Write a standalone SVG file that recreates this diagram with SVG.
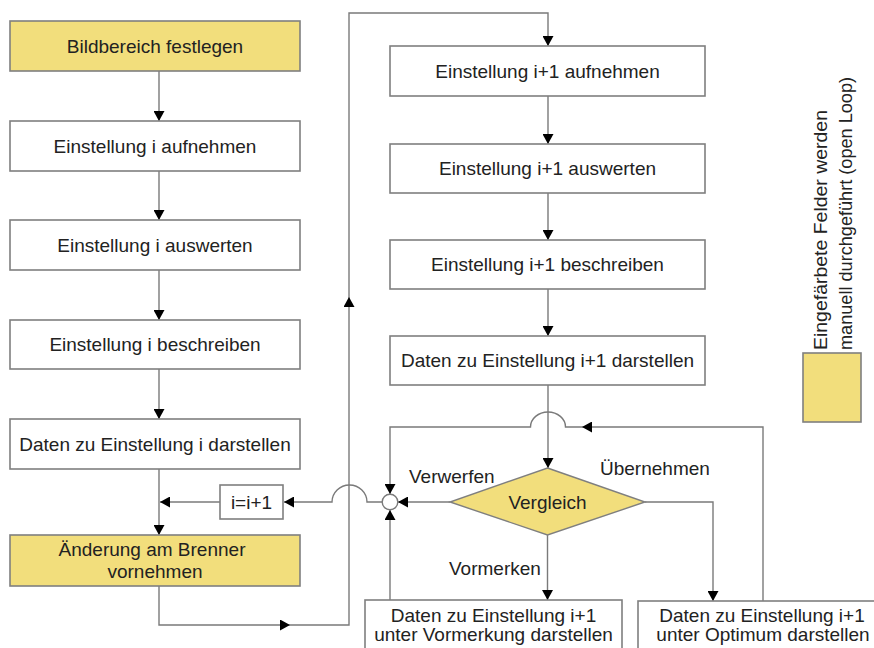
<svg xmlns="http://www.w3.org/2000/svg" width="874" height="648" viewBox="0 0 874 648">
<style>
.box{fill:#ffffff;stroke:#7f7f7f;stroke-width:1.6}
.yel{fill:#f2de7c;stroke:#7f7f7f;stroke-width:1.6}
.t{font-family:"Liberation Sans",Arial,sans-serif;font-size:19px;fill:#222;text-anchor:middle}
.lbl{font-family:"Liberation Sans",Arial,sans-serif;font-size:19px;fill:#222}
.c{fill:none;stroke:#7a7a7a;stroke-width:1.4}
.ca{fill:none;stroke:#7a7a7a;stroke-width:1.4;marker-end:url(#ah)}
</style>
<defs>
<marker id="ah" markerUnits="userSpaceOnUse" viewBox="0 0 10 11" refX="10" refY="5.5" markerWidth="10" markerHeight="11" orient="auto">
<path d="M0,0 L10,5.5 L0,11 z" fill="#000"/>
</marker>
</defs>
<rect width="874" height="648" fill="#ffffff"/>

<g id="connectors">
<path class="ca" d="M159 71 V121"/>
<path class="ca" d="M159 171 V220"/>
<path class="ca" d="M159 270 V320"/>
<path class="ca" d="M159 369 V419"/>
<path class="ca" d="M159 469 V535"/>
<path class="ca" d="M220 502 H160"/>
<path class="ca" d="M382 502 H367 A17.5 17 0 0 0 332 502 H284"/>
<path class="ca" d="M159 586 V625 H290"/>
<path class="ca" d="M290 625 H349 V297"/>
<path class="ca" d="M349 297 V13 H548 V46"/>
<path class="ca" d="M548 96 V144"/>
<path class="ca" d="M548 193 V240"/>
<path class="ca" d="M548 289 V336"/>
<path class="ca" d="M548 385 V468"/>
<path class="ca" d="M763 601 V427 H582"/>
<path class="ca" d="M582 427 H565.5 A17.5 15 0 0 0 530.5 427 H390 V494"/>
<path class="ca" d="M450 502 H398"/>
<path class="ca" d="M390 600 V510"/>
<path class="ca" d="M645 502 H713 V601"/>
<path class="ca" d="M547.5 535 V600"/>
<circle cx="390" cy="502" r="7.8" fill="#ffffff" stroke="#7a7a7a" stroke-width="1.4"/>
</g>

<g id="n1"><rect class="yel" x="10" y="21" width="290" height="50"/><text class="t" x="155" y="53">Bildbereich festlegen</text></g>
<g id="n2"><rect class="box" x="10" y="121" width="290" height="50"/><text class="t" x="155" y="153">Einstellung i aufnehmen</text></g>
<g id="n3"><rect class="box" x="10" y="220" width="290" height="50"/><text class="t" x="155" y="252">Einstellung i auswerten</text></g>
<g id="n4"><rect class="box" x="10" y="320" width="290" height="49"/><text class="t" x="155" y="351">Einstellung i beschreiben</text></g>
<g id="n5"><rect class="box" x="10" y="419" width="290" height="50"/><text class="t" x="155" y="451">Daten zu Einstellung i darstellen</text></g>
<g id="n6"><rect class="yel" x="10" y="535" width="290" height="51"/><text class="t" x="152" y="556">Änderung am Brenner</text><text class="t" x="155" y="578">vornehmen</text></g>
<g id="n7"><rect class="box" x="220" y="485" width="63" height="34"/><text class="t" x="251.5" y="509">i=i+1</text></g>

<g id="n8"><rect class="box" x="390" y="46" width="315" height="50"/><text class="t" x="547.5" y="78">Einstellung i+1 aufnehmen</text></g>
<g id="n9"><rect class="box" x="390" y="144" width="315" height="49"/><text class="t" x="547.5" y="175">Einstellung i+1 auswerten</text></g>
<g id="n10"><rect class="box" x="390" y="240" width="315" height="49"/><text class="t" x="547.5" y="271">Einstellung i+1 beschreiben</text></g>
<g id="n11"><rect class="box" x="390" y="336" width="315" height="49"/><text class="t" x="547.5" y="367">Daten zu Einstellung i+1 darstellen</text></g>

<g id="n12"><polygon points="547.5,468 645,502 547.5,535 450,502" fill="#f2de7c" stroke="#7f7f7f" stroke-width="1.4"/><text class="t" x="547.5" y="509">Vergleich</text></g>

<g id="n13"><rect class="box" x="365" y="600" width="257" height="60"/><text class="t" x="493.5" y="622">Daten zu Einstellung i+1</text><text class="t" x="493.5" y="641">unter Vormerkung darstellen</text></g>
<g id="n14"><rect class="box" x="638" y="601" width="252" height="60"/><text class="t" x="762" y="622">Daten zu Einstellung i+1</text><text class="t" x="763" y="641">unter Optimum darstellen</text></g>

<g id="labels">
<text class="lbl" x="409" y="483">Verwerfen</text>
<text class="lbl" x="600" y="475">Übernehmen</text>
<text class="lbl" x="449" y="575">Vormerken</text>
</g>

<g id="legend">
<rect class="yel" x="803" y="353" width="58" height="69"/>
<text class="lbl" transform="translate(827 350) rotate(-90)" textLength="240" lengthAdjust="spacingAndGlyphs">Eingefärbete Felder werden</text>
<text class="lbl" transform="translate(852 350) rotate(-90)" textLength="273" lengthAdjust="spacingAndGlyphs">manuell durchgeführt (open Loop)</text>
</g>
</svg>
